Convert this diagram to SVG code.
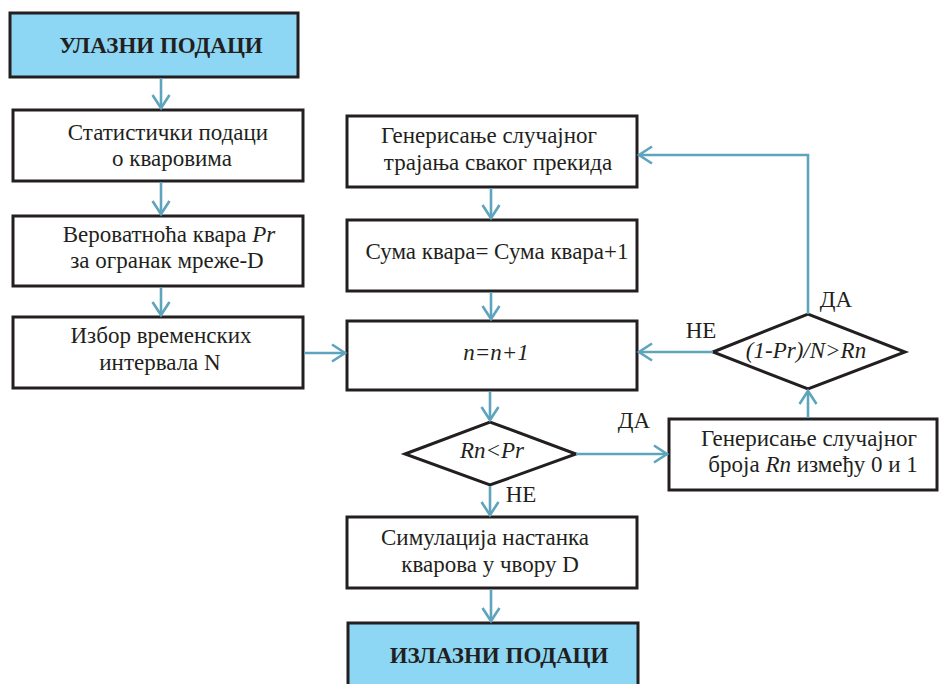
<svg xmlns="http://www.w3.org/2000/svg" width="949" height="684" viewBox="0 0 949 684">
<defs>
<marker id="ah" markerUnits="userSpaceOnUse" markerWidth="20" markerHeight="22" viewBox="-16 -11 18 22" refX="0" refY="0" orient="auto">
<path d="M-13,-8.5 L0,0 L-13,8.5" fill="none" stroke="#5FA4BD" stroke-width="2.6"/>
</marker>
</defs>
<rect width="949" height="684" fill="#fff"/>
<g stroke="#231F20" stroke-width="3" fill="#fff">
<g id="n1"><rect x="10" y="13" width="288" height="64" fill="#8DD7F5"/></g>
<g id="n2"><rect x="13" y="110" width="290" height="71"/></g>
<g id="n3"><rect x="13" y="216" width="290" height="70"/></g>
<g id="n4"><rect x="13" y="317" width="290" height="71"/></g>
<g id="n5"><rect x="347" y="116" width="290" height="71"/></g>
<g id="n6"><rect x="347" y="220" width="290" height="71"/></g>
<g id="n7"><rect x="347" y="321" width="290" height="69"/></g>
<g id="d1"><polygon points="405,454 490,422 576,454 490,485"/></g>
<g id="d2"><polygon points="713,352 808,314 905,352 808,389"/></g>
<g id="n8"><rect x="669" y="419" width="268" height="71"/></g>
<g id="n9"><rect x="347" y="517" width="290" height="71"/></g>
<g id="n10"><rect x="348" y="623" width="290" height="70" fill="#8DD7F5"/></g>
</g>
<g id="connectors" fill="none" stroke="#5FA4BD" stroke-width="2.6" marker-end="url(#ah)">
<line x1="161" y1="78" x2="161" y2="108"/>
<line x1="161" y1="182" x2="161" y2="214"/>
<line x1="161" y1="287" x2="161" y2="315"/>
<line x1="304" y1="353" x2="345" y2="353"/>
<line x1="491" y1="188" x2="491" y2="218"/>
<line x1="491" y1="292" x2="491" y2="319"/>
<line x1="490" y1="391" x2="490" y2="420"/>
<line x1="576" y1="454" x2="667" y2="454"/>
<line x1="808" y1="418" x2="808" y2="391"/>
<polyline points="808,314 808,155 639,155"/>
<line x1="713" y1="352" x2="639" y2="352"/>
<line x1="490" y1="486" x2="490" y2="515"/>
<line x1="491" y1="589" x2="491" y2="621"/>
</g>
<g id="labels" fill="#231F20" text-anchor="middle" style="font-family:'Times New Roman',serif;font-size:23px">
<text x="161" y="53" font-weight="bold">УЛАЗНИ ПОДАЦИ</text>
<text x="168" y="140">Статистички подаци</text><text x="172" y="166">о кваровима</text>
<text x="169" y="242">Вероватноћа квара <tspan font-style="italic">Pr</tspan></text><text x="167" y="268">за огранак мреже-D</text>
<text x="161" y="343">Избор временских</text><text x="160" y="370">интервала N</text>
<text x="489" y="143">Генерисање случајног</text><text x="498" y="170">трајања сваког прекида</text>
<text x="497" y="259">Сума квара= Сума квара+1</text>
<text x="496" y="360" font-style="italic">n=n+1</text>
<text x="492" y="458" font-style="italic">Rn&lt;Pr</text>
<text x="806" y="358" font-style="italic">(1-Pr)/N&gt;Rn</text>
<text x="809" y="446">Генерисање случајног</text><text x="813" y="472">броја <tspan font-style="italic">Rn</tspan> између 0 и 1</text>
<text x="485" y="545">Симулација настанка</text><text x="490" y="572">кварова у чвору D</text>
<text x="499" y="663" font-weight="bold">ИЗЛАЗНИ ПОДАЦИ</text>
<text x="634" y="428">ДА</text>
<text x="701" y="338">НЕ</text>
<text x="836" y="307">ДА</text>
<text x="521" y="502">НЕ</text>
</g>
</svg>
